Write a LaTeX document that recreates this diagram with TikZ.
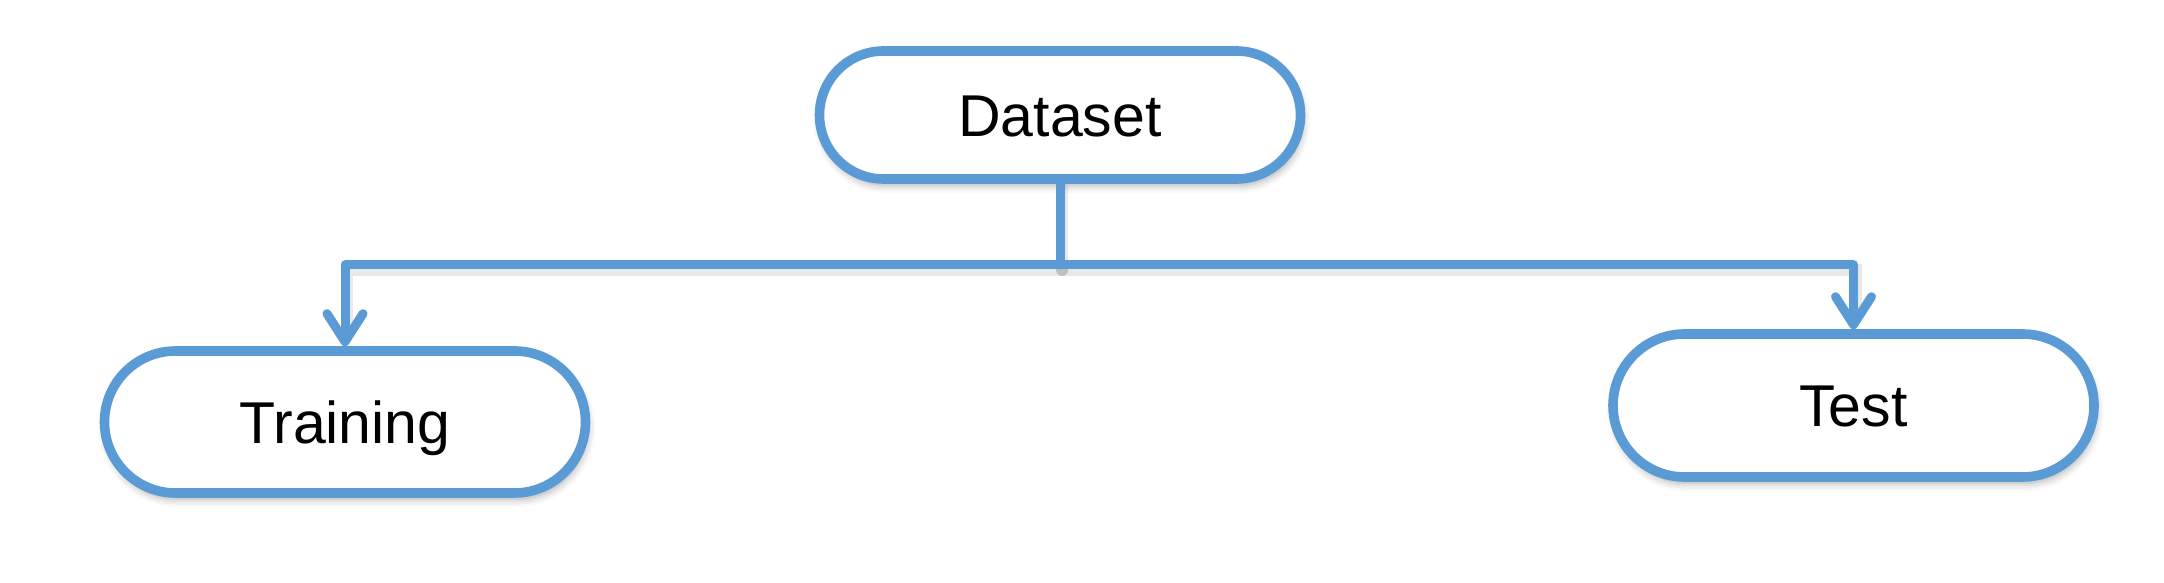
\documentclass[tikz,border=0pt]{standalone}
\usepackage{fontspec}
\setmainfont{Liberation Sans}
\usetikzlibrary{arrows.meta,shadows.blur}
\definecolor{edgeblue}{HTML}{5B9BD5}
\begin{document}
\begin{tikzpicture}[x=0.5pt,y=0.5pt,
 term/.style={draw=edgeblue,line width=4.8pt,fill=white,inner sep=0pt,
   font=\fontsize{29.5}{34}\selectfont,text height=21.1pt,text depth=0pt,
   blur shadow={shadow xshift=1pt,shadow yshift=-3pt,shadow blur radius=4pt,shadow opacity=35}},
 link/.style={draw=edgeblue,line width=4.5pt,line join=round,line cap=round},
 tip/.style={-{Straight Barb[length=14pt,width=18pt,line cap=round,round]}},
 linkshadow/.style={draw=black,opacity=0.09,line width=6pt,line cap=round,
   transform canvas={xshift=1pt,yshift=-2.5pt}}
]
\useasboundingbox (0,0) rectangle (2164,583);
\node[term,minimum width=240.5pt,minimum height=64pt,rounded corners=32pt] (ds) at (1060,468) {Dataset};
\node[term,minimum width=240.5pt,minimum height=71pt,rounded corners=35.5pt] (tr) at (345,161) {Training};
\node[term,minimum width=240.5pt,minimum height=71.5pt,rounded corners=35.75pt] (te) at (1853.5,177.5) {Test};
\coordinate (j) at (1060,318);
\draw[linkshadow] (ds.south) -- (j);
\draw[linkshadow] (j) -| ([yshift=14pt]tr.north);
\draw[linkshadow] (j) -| ([yshift=14pt]te.north);
\draw[link] (ds.south) -- (j);
\draw[link,tip] (j) -| (tr.north);
\draw[link,tip] (j) -| (te.north);
\end{tikzpicture}
\end{document}
